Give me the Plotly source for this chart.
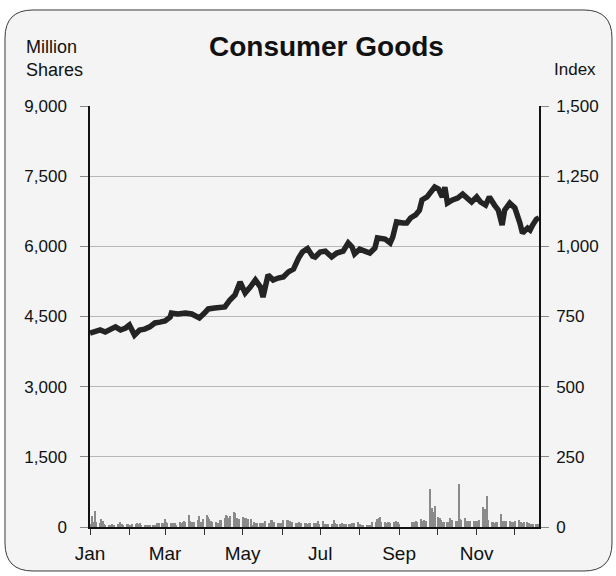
import pandas as pd
import plotly.graph_objects as go

# ---------------- data ----------------
title_text = "Consumer Goods"
left_title = "Million<br>Shares"
right_title = "Index"

# Index line (right axis): day offset from Jan 1, value
index_day = [0, 4, 8, 12, 16, 20, 24, 28, 31, 35, 39, 43, 47, 51, 55, 59, 63, 64, 69, 75,
             80, 86, 90, 93, 98, 102, 106, 110, 114, 118, 122, 126, 130, 134, 136, 140, 144, 148, 152, 156,
             160, 164, 167, 171, 175, 177, 181, 185, 190, 194, 199, 203, 206, 208, 212, 216, 220, 224, 226, 232,
             236, 238, 241, 246, 249, 252, 256, 259, 261, 265, 267, 271, 274, 277, 279, 281, 285, 289, 293, 297,
             300, 304, 307, 311, 314, 318, 321, 324, 326, 330, 334, 338, 340, 344, 346, 348, 351, 353]
index_value = [691, 695, 702, 695, 705, 713, 702, 709, 720, 684, 702, 705, 713, 727, 730, 734, 748, 762, 759, 762,
               759, 745, 762, 777, 780, 784, 784, 809, 827, 873, 834, 855, 880, 855, 819, 898, 880, 887, 891, 909,
               919, 958, 980, 992, 965, 962, 980, 983, 962, 976, 983, 1012, 998, 973, 990, 983, 976, 994, 1030, 1026,
               1012, 1033, 1087, 1083, 1083, 1101, 1112, 1129, 1165, 1176, 1190, 1211, 1204, 1176, 1211, 1154, 1165, 1172, 1186, 1169,
               1158, 1176, 1158, 1147, 1176, 1147, 1129, 1076, 1129, 1154, 1137, 1083, 1047, 1065, 1058, 1076, 1097, 1101]

# Daily volume (left axis, million shares), one value per trading day from Jan 2
volume = [
    60, 235, 115, 350, 115,   80, 165, 135, 65, 50,   50, 45, 55, 40, 50,   55, 50, 105, 60, 45,
    55, 60, 50, 45, 55,   70, 80, 60, 75, 50,   40, 35, 45, 40, 30,   40, 35, 45, 80, 75,
    80, 85, 165, 105, 90,   85, 80, 90, 75, 40,   100, 95, 105, 128, 100,   257, 128, 100, 90, 110,
    150, 235, 115, 80, 165,   257, 220, 180, 130, 110,   100, 95, 90, 150, 140,   185, 265, 230, 200, 240,
    315, 310, 200, 190, 180,   205, 185, 170, 190, 175,   165, 30, 107, 95, 90,   93, 90, 85, 95, 120,
    90, 150, 145, 60, 100,   90, 85, 95, 80, 150,   150, 155, 120, 110, 100,   95, 80, 100, 75, 90,
    85, 95, 70, 80, 78,   78, 75, 80, 128, 64,   128, 64, 60, 65, 70,   60, 70, 140, 75, 70,
    70, 75, 65, 70, 60,   70, 65, 75, 70, 85,   100, 70, 43, 40, 45,   43, 40, 45, 30, 100,
    100, 164, 185, 207, 100,   100, 95, 100, 105, 95,   100, 90, 135, 100, 60,   0, 0, 0, 0, 0,
    114, 110, 114, 120, 110,   171, 130, 135, 140, 130,   806, 135, 400, 328, 456,   221, 185, 140, 110, 110,
    110, 115, 185, 130, 140,   125, 130, 920, 164, 150,   185, 135, 128, 125, 130,   128, 120, 135, 125, 140,
    420, 150, 378, 670, 150,   100, 105, 95, 100, 110,   271, 128, 125, 130, 120,   128, 114, 110, 115, 120,
    150, 100, 105, 95, 100,   100, 95, 64, 60, 65,   64, 60, 70,
]

left_ticks = [0, 1500, 3000, 4500, 6000, 7500, 9000]
right_ticks = [0, 250, 500, 750, 1000, 1250, 1500]

# ---------------- build ----------------
year_start = pd.Timestamp("2023-01-01")
index_dates = [year_start + pd.Timedelta(days=d) for d in index_day]
vol_dates = pd.bdate_range("2023-01-02", periods=len(volume))

FONT = "Liberation Sans, Arial, sans-serif"

fig = go.Figure()
fig.add_trace(go.Bar(
    x=vol_dates, y=volume, yaxis="y",
    marker=dict(color="#8a8a8a", line=dict(width=0)),
    width=0.95 * 86400000, showlegend=False, hoverinfo="skip",
))
fig.add_trace(go.Scatter(
    x=index_dates, y=index_value, yaxis="y2", mode="lines",
    line=dict(color="#242424", width=5.5, shape="linear"),
    showlegend=False,
))

# plot area in pixels: x 90..539, y 106..527
L, R, T, B = 90, 539, 106, 527
W, H = 616, 576


def px(x, y):
    return f"{(x - L) / (R - L):.5f},{(B - y) / (B - T):.5f}"


rl, rr, rt, rb, rad = 5, 612, 10, 571, 28
path = (f"M {px(rl + rad, rt)} L {px(rr - rad, rt)} Q {px(rr, rt)} {px(rr, rt + rad)} "
        f"L {px(rr, rb - rad)} Q {px(rr, rb)} {px(rr - rad, rb)} "
        f"L {px(rl + rad, rb)} Q {px(rl, rb)} {px(rl, rb - rad)} "
        f"L {px(rl, rt + rad)} Q {px(rl, rt)} {px(rl + rad, rt)} Z")

fig.update_layout(
    width=W, height=H,
    margin=dict(l=L, r=W - R, t=T, b=H - B, pad=0),
    paper_bgcolor="white",
    plot_bgcolor="rgba(0,0,0,0)",
    font=dict(family=FONT, size=17, color="#111"),
    bargap=0,
    shapes=[dict(type="path", xref="paper", yref="paper", path=path,
                 fillcolor="#f3f4f3", line=dict(color="#3a3a3a", width=1), layer="below")],
    xaxis=dict(
        type="date",
        range=["2023-01-01", "2023-12-20"],
        tick0="2023-01-01", dtick="M2", tickformat="%b",
        ticks="outside", ticklen=6, tickcolor="#333", tickwidth=1,
        minor=dict(dtick="M1", tick0="2023-01-01", ticks="outside", ticklen=6, tickcolor="#333", tickwidth=1,
                   showgrid=False),
        showline=True, linecolor="#111", linewidth=1.5,
        showgrid=False, zeroline=False,
        tickfont=dict(size=19, family=FONT, color="#111"),
        ticklabelstandoff=2,
        fixedrange=True,
    ),
    yaxis=dict(
        range=[0, 9000], tickvals=left_ticks, tickformat=",",
        ticks="outside", ticklen=8, tickcolor="#888", tickwidth=1,
        showline=True, linecolor="#111", linewidth=1.5,
        showgrid=True, gridcolor="#b8b8b8", gridwidth=1,
        zeroline=False,
        tickfont=dict(size=17, family=FONT, color="#111"),
        ticklabelstandoff=10,
    ),
    yaxis2=dict(
        range=[0, 1500], tickvals=right_ticks, tickformat=",",
        overlaying="y", side="right",
        ticks="outside", ticklen=8, tickcolor="#888", tickwidth=1,
        showline=True, linecolor="#111", linewidth=1.5,
        showgrid=False, zeroline=False,
        tickfont=dict(size=17, family=FONT, color="#111"),
        ticklabelstandoff=4,
    ),
    annotations=[
        dict(text=f"<b>{title_text}</b>", xref="paper", yref="paper",
             x=(326 - L) / (R - L), y=(B - 47) / (B - T), xanchor="center", yanchor="middle",
             showarrow=False, font=dict(size=28, family=FONT, color="#111")),
        dict(text=left_title, xref="paper", yref="paper",
             x=(24 - L) / (R - L), y=(B - 58) / (B - T), xanchor="left", yanchor="middle", align="left",
             showarrow=False, font=dict(size=18, family=FONT, color="#111")),
        dict(text=right_title, xref="paper", yref="paper",
             x=(598 - L) / (R - L), y=(B - 70) / (B - T), xanchor="right", yanchor="middle",
             showarrow=False, font=dict(size=17, family=FONT, color="#111")),
    ],
)

fig.write_html("out.html", config={"displayModeBar": False},
               post_script="document.body.style.margin='0';document.body.style.overflow='hidden';")
